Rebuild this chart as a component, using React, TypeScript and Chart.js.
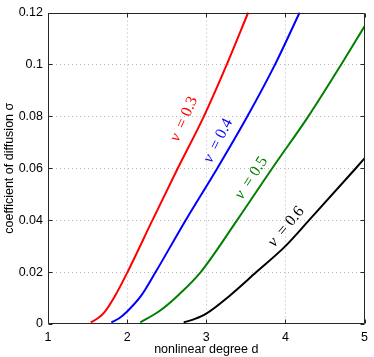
import React, { useEffect, useRef } from 'react';
import { Chart, registerables } from 'chart.js';

Chart.register(...registerables);

const xTickValues = [1, 2, 3, 4, 5];
const yTickLabels = ['0', '0.02', '0.04', '0.06', '0.08', '0.1', '0.12'];

const nuValues = ['0.3', '0.4', '0.5', '0.6'];

const redX = [1.54, 1.63, 1.72, 1.85, 2.0, 2.32, 2.64, 2.97, 3.26, 3.53];
const redY = [0.0006, 0.0022, 0.0048, 0.011, 0.0197, 0.04, 0.06, 0.08, 0.1, 0.12];

const blueX = [1.8, 1.9, 2.0, 2.18, 2.36, 2.74, 3.14, 3.52, 3.87, 4.18];
const blueY = [0.0006, 0.0022, 0.0048, 0.011, 0.02, 0.04, 0.06, 0.08, 0.1, 0.12];

const greenX = [2.166, 2.4, 2.66, 2.93, 3.39, 3.834, 4.29, 4.706, 5.0];
const greenY = [0.0006, 0.0048, 0.0115, 0.02, 0.04, 0.06, 0.08, 0.1, 0.1147];

const blackX = [2.715, 2.85, 3.0, 3.3, 3.633, 4.0, 4.3, 4.89, 5.0];
const blackY = [0.0006, 0.0019, 0.004, 0.011, 0.02, 0.03, 0.04, 0.06, 0.0638];

const seriesX = [redX, blueX, greenX, blackX];
const seriesY = [redY, blueY, greenY, blackY];
const colors = ['#ff0000', '#0000ff', '#008000', '#000000'];

// label anchors (data coords) and screen rotation (degrees)
const labelAnchorX = [2.72, 3.15, 3.57, 4.01];
const labelAnchorY = [0.0789, 0.0706, 0.0562, 0.0374];
const labelAngle = [-66, -63, -57, -50];

const SANS = "'Liberation Sans', Arial, Helvetica, sans-serif";
const SERIF = "'Liberation Serif', 'Times New Roman', serif";

const framePlugin = {
  id: 'frame',
  beforeDatasetsDraw(chart: any) {
    const { ctx, chartArea: a, scales } = chart;
    const xs = scales.x;
    const ys = scales.y;
    ctx.save();
    ctx.strokeStyle = '#b8b8b8';
    ctx.lineWidth = 1;
    ctx.setLineDash([1, 3]);
    xs.ticks.forEach((t: any, i: number) => {
      if (i === 0 || i === xs.ticks.length - 1) return;
      const px = Math.round(xs.getPixelForValue(t.value)) + 0.5;
      ctx.beginPath();
      ctx.moveTo(px, a.top);
      ctx.lineTo(px, a.bottom);
      ctx.stroke();
    });
    ys.ticks.forEach((t: any, i: number) => {
      if (i === 0 || i === ys.ticks.length - 1) return;
      const py = Math.round(ys.getPixelForValue(t.value)) + 0.5;
      ctx.beginPath();
      ctx.moveTo(a.left, py);
      ctx.lineTo(a.right, py);
      ctx.stroke();
    });
    ctx.restore();
  },
  afterDatasetsDraw(chart: any) {
    const { ctx, chartArea: a, scales } = chart;
    const xs = scales.x;
    const ys = scales.y;
    ctx.save();
    for (let i = 0; i < nuValues.length; i++) {
      const px = xs.getPixelForValue(labelAnchorX[i]);
      const py = ys.getPixelForValue(labelAnchorY[i]);
      ctx.save();
      ctx.translate(px, py);
      ctx.rotate((labelAngle[i] * Math.PI) / 180);
      ctx.fillStyle = colors[i];
      ctx.textBaseline = 'middle';
      ctx.textAlign = 'left';
      const fItalic = `italic 16px ${SERIF}`;
      const fNormal = `16px ${SERIF}`;
      ctx.font = fItalic;
      const w1 = ctx.measureText('ν').width;
      ctx.font = fNormal;
      const rest = ' \u2009= ' + nuValues[i];
      const w2 = ctx.measureText(rest).width;
      const total = w1 + w2;
      const x0 = -total / 2;
      ctx.font = fItalic;
      ctx.fillText('ν', x0, 0);
      ctx.font = fNormal;
      ctx.fillText(rest, x0 + w1, 0);
      ctx.restore();
    }
    const L = Math.round(a.left) + 0.5;
    const R = Math.round(a.right) - 0.5;
    const T = Math.round(a.top) + 0.5;
    const B = Math.round(a.bottom) - 0.5;
    ctx.strokeStyle = '#262626';
    ctx.lineWidth = 1;
    ctx.setLineDash([]);
    ctx.beginPath();
    ctx.rect(L, T, R - L, B - T);
    ctx.stroke();
    const tl = 4;
    ctx.beginPath();
    xs.ticks.forEach((t: any) => {
      const px = Math.round(xs.getPixelForValue(t.value)) + 0.5;
      ctx.moveTo(px, B);
      ctx.lineTo(px, B - tl);
      ctx.moveTo(px, T);
      ctx.lineTo(px, T + tl);
    });
    ys.ticks.forEach((t: any) => {
      const py = Math.round(ys.getPixelForValue(t.value)) + 0.5;
      ctx.moveTo(L, py);
      ctx.lineTo(L + tl, py);
      ctx.moveTo(R, py);
      ctx.lineTo(R - tl, py);
    });
    ctx.stroke();
    ctx.restore();
  },
};

export default function App() {
  const ref = useRef<HTMLCanvasElement | null>(null);
  useEffect(() => {
    if (!ref.current) return;
    const datasets = seriesX.map((xs, i) => ({
      label: 'ν = ' + nuValues[i],
      data: xs.map((x, j) => ({ x, y: seriesY[i][j] })),
      borderColor: colors[i],
      backgroundColor: colors[i],
      borderWidth: 2,
      pointRadius: 0,
      cubicInterpolationMode: 'monotone' as const,
      fill: false,
    }));
    const chart = new Chart(ref.current, {
      type: 'line',
      data: { datasets },
      options: {
        responsive: false,
        animation: false,
        layout: { padding: { top: 6, right: 8, left: 0, bottom: 0 }, autoPadding: false },
        plugins: { legend: { display: false }, tooltip: { enabled: false } },
        scales: {
          x: {
            type: 'linear',
            min: 1,
            max: 5,
            afterFit: (s: any) => { s.height = 33; },
            afterBuildTicks: (s: any) => { s.ticks = xTickValues.map((v) => ({ value: v })); },
            ticks: {
              padding: 6,
              color: '#000',
              font: { family: SANS, size: 12.5 },
              callback: (v: any) => String(v),
              maxRotation: 0,
            },
            grid: { display: false, drawTicks: false, tickLength: 0 },
            border: { display: false },
            title: {
              display: true,
              text: 'nonlinear degree d',
              color: '#000',
              font: { family: SANS, size: 12.5 },
              padding: { top: 0, bottom: 0 },
            },
          },
          y: {
            type: 'linear',
            min: 0,
            max: 0.12,
            afterFit: (s: any) => { s.width = 48; },
            afterBuildTicks: (s: any) => { s.ticks = yTickLabels.map((l) => ({ value: parseFloat(l) })); },
            ticks: {
              padding: 5,
              color: '#000',
              font: { family: SANS, size: 12.5 },
              callback: (_v: any, i: number) => yTickLabels[i],
            },
            grid: { display: false, drawTicks: false, tickLength: 0 },
            border: { display: false },
            title: {
              display: true,
              text: 'coefficient of diffusion σ',
              color: '#000',
              font: { family: SANS, size: 12.5 },
              padding: { top: 2, bottom: 0 },
            },
          },
        },
      },
      plugins: [framePlugin],
    });
    return () => chart.destroy();
  }, []);
  return (
    <div style={{ position: 'absolute', left: 0, top: 0, width: 374, height: 357, background: '#fff' }}>
      <canvas ref={ref} width={374} height={357} style={{ display: 'block' }} />
    </div>
  );
}
